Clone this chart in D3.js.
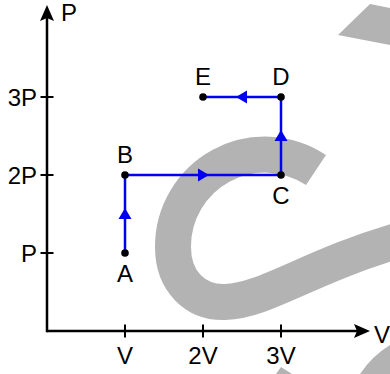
<!DOCTYPE html>
<html>
<head>
<meta charset="utf-8">
<script src="https://cdn.jsdelivr.net/npm/d3@7"></script>
<style>
  html, body { margin: 0; padding: 0; background: #fff; }
  svg { display: block; }
  text { font-family: "Liberation Sans", Arial, sans-serif; font-size: 24px; fill: #000; }
</style>
</head>
<body>
<div id="chart"></div>
<script>
(function()
{
    // state labels and their (V, P) coordinates, in order of the process
    const stateNames = ["A", "B", "C", "D", "E"];
    const stateVolume = [1, 1, 3, 3, 2];
    const statePressure = [1, 2, 2, 3, 3];

    const xTickValues = [1, 2, 3];
    const xTickLabels = ["V", "2V", "3V"];
    const yTickValues = [1, 2, 3];
    const yTickLabels = ["P", "2P", "3P"];

    const W = 390, H = 374;
    const BLUE = "#0000f0";
    const GRAY = "#b3b3b3";

    var x = d3.scaleLinear().domain([0, 1]).range([47, 125]);
    var y = d3.scaleLinear().domain([0, 1]).range([331, 253]);

    var svg = d3.select("#chart").append("svg")
        .attr("width", W)
        .attr("height", H);

    // watermark in the background
    var wm = svg.append("g").attr("class", "watermark");
    wm.append("path")
        .attr("d", "M316,170 A92,92 0 0,0 173,247 C173,282 196,303 225,302 C265,301 310,266 400,240")
        .attr("fill", "none")
        .attr("stroke", GRAY)
        .attr("stroke-width", 36);
    wm.append("path").attr("d", "M338,35 L370,4 L390,8 L390,45 Z").attr("fill", GRAY);
    wm.append("path").attr("d", "M360,374 Q372,356 390,345 L390,374 Z").attr("fill", GRAY);
    wm.append("path").attr("d", "M276,374 L281,367 L292,374 Z").attr("fill", GRAY);

    // axes
    var xEnd = 370, yEnd = 5;
    svg.append("line")
        .attr("x1", x(0)).attr("y1", y(0))
        .attr("x2", xEnd - 8).attr("y2", y(0))
        .attr("stroke", "#000").attr("stroke-width", 2.5);
    svg.append("line")
        .attr("x1", x(0)).attr("y1", y(0) + 1.25)
        .attr("x2", x(0)).attr("y2", yEnd + 8)
        .attr("stroke", "#000").attr("stroke-width", 2.5);

    function arrowHead(px, py, angle, len, half, notch, color) {
        var p = "M0,0 L" + (-len) + "," + (-half) + " L" + (-len + notch) + ",0 L" + (-len) + "," + half + " Z";
        svg.append("path")
            .attr("d", p)
            .attr("fill", color)
            .attr("transform", "translate(" + px + "," + py + ") rotate(" + angle + ")");
    }
    arrowHead(xEnd, y(0), 0, 16, 7, 3, "#000");
    arrowHead(x(0), yEnd, -90, 16, 7, 3, "#000");

    // ticks
    svg.selectAll("line.xtick").data(xTickValues).enter().append("line")
        .attr("class", "xtick")
        .attr("x1", function(d) { return x(d); })
        .attr("x2", function(d) { return x(d); })
        .attr("y1", y(0) - 6.5).attr("y2", y(0) + 6.5)
        .attr("stroke", "#000").attr("stroke-width", 2);
    svg.selectAll("line.ytick").data(yTickValues).enter().append("line")
        .attr("class", "ytick")
        .attr("y1", function(d) { return y(d); })
        .attr("y2", function(d) { return y(d); })
        .attr("x1", x(0) - 6.5).attr("x2", x(0) + 6.5)
        .attr("stroke", "#000").attr("stroke-width", 2);

    svg.selectAll("text.xlab").data(xTickValues).enter().append("text")
        .attr("class", "xlab")
        .attr("x", function(d) { return x(d); })
        .attr("y", y(0) + 33)
        .attr("text-anchor", "middle")
        .text(function(d, i) { return xTickLabels[i]; });
    svg.selectAll("text.ylab").data(yTickValues).enter().append("text")
        .attr("class", "ylab")
        .attr("x", x(0) - 10)
        .attr("y", function(d) { return y(d) + 8.5; })
        .attr("text-anchor", "end")
        .text(function(d, i) { return yTickLabels[i]; });

    svg.append("text").attr("x", 61).attr("y", 21).text("P");
    svg.append("text").attr("x", 374).attr("y", 343).text("V");

    // process path
    var states = stateNames.map(function(n, i) {
        return { name: n, v: stateVolume[i], p: statePressure[i] };
    });
    var line = d3.line()
        .x(function(d) { return x(d.v); })
        .y(function(d) { return y(d.p); });
    svg.append("path")
        .datum(states)
        .attr("d", line)
        .attr("fill", "none")
        .attr("stroke", BLUE)
        .attr("stroke-width", 2.5);

    // direction arrows at the middle of each segment
    for (var i = 0; i < states.length - 1; i++) {
        var a = states[i], b = states[i + 1];
        var x1 = x(a.v), y1 = y(a.p), x2 = x(b.v), y2 = y(b.p);
        var ang = Math.atan2(y2 - y1, x2 - x1);
        var mx = (x1 + x2) / 2 + Math.cos(ang) * 6;
        var my = (y1 + y2) / 2 + Math.sin(ang) * 6;
        arrowHead(mx, my, ang * 180 / Math.PI, 11, 6.5, 0, BLUE);
    }

    svg.selectAll("circle.state").data(states).enter().append("circle")
        .attr("class", "state")
        .attr("cx", function(d) { return x(d.v); })
        .attr("cy", function(d) { return y(d.p); })
        .attr("r", 3.8)
        .attr("fill", "#000");

    var below = { A: true, C: true };
    svg.selectAll("text.state").data(states).enter().append("text")
        .attr("class", "state")
        .attr("x", function(d) { return x(d.v); })
        .attr("y", function(d) { return y(d.p) + (below[d.name] ? 29 : -12); })
        .attr("text-anchor", "middle")
        .text(function(d) { return d.name; });
})();
</script>
</body>
</html>
